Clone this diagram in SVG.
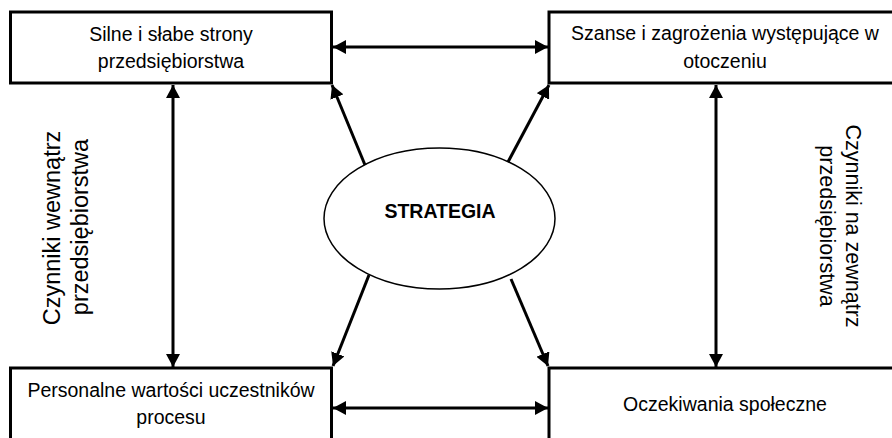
<svg xmlns="http://www.w3.org/2000/svg" width="892" height="438" viewBox="0 0 892 438">
<style>
.box{fill:#fff;stroke:#000;stroke-width:3}
.t{font-family:"Liberation Sans",Arial,sans-serif;font-size:19.5px;fill:#000;text-anchor:middle}
.b{font-weight:bold}
.vl{font-size:23.5px}
.vr{font-size:21.5px}
.c{stroke:#000;stroke-width:3;fill:none}
</style>
<defs>
<marker id="ah" markerUnits="userSpaceOnUse" markerWidth="14" markerHeight="14" refX="13" refY="7" orient="auto-start-reverse" viewBox="0 0 14 14">
<path d="M0,0 L13,7 L0,14 z" fill="#000"/>
</marker>
</defs>
<rect x="0" y="0" width="892" height="438" fill="#fff"/>
<g id="n-silne">
<rect class="box" x="10.5" y="12" width="321" height="71"/>
<text class="t" x="171" y="41">Silne i słabe strony</text>
<text class="t" x="171" y="68">przedsiębiorstwa</text>
</g>
<g id="n-szanse">
<rect class="box" x="549" y="12" width="352" height="71"/>
<text class="t" x="725" y="40">Szanse i zagrożenia występujące w</text>
<text class="t" x="725" y="68">otoczeniu</text>
</g>
<g id="n-personalne">
<rect class="box" x="10.5" y="368" width="321" height="82"/>
<text class="t" x="171" y="397">Personalne wartości uczestników</text>
<text class="t" x="171" y="424">procesu</text>
</g>
<g id="n-oczekiwania">
<rect class="box" x="549" y="368" width="352" height="82"/>
<text class="t" x="725" y="411">Oczekiwania społeczne</text>
</g>
<g id="n-strategia">
<ellipse cx="439.5" cy="218.5" rx="115.5" ry="70.5" fill="#fff" stroke="#000" stroke-width="1.5"/>
<text class="t b" x="440" y="218">STRATEGIA</text>
</g>
<g id="n-wewnatrz">
<text class="t vl" transform="translate(60,228) rotate(-90)" x="0" y="0">Czynniki wewnątrz</text>
<text class="t vl" transform="translate(88,227) rotate(-90)" x="0" y="0">przedsiębiorstwa</text>
</g>
<g id="n-zewnatrz">
<text class="t vr" transform="translate(846,226) rotate(90)" x="0" y="0">Czynniki na zewnątrz</text>
<text class="t vr" transform="translate(820,226) rotate(90)" x="0" y="0">przedsiębiorstwa</text>
</g>
<g id="connectors">
<line class="c" x1="333" y1="47" x2="548" y2="47" marker-start="url(#ah)" marker-end="url(#ah)"/>
<line class="c" x1="333" y1="408" x2="548" y2="408" marker-start="url(#ah)" marker-end="url(#ah)"/>
<line class="c" x1="173" y1="85" x2="173" y2="367" marker-start="url(#ah)" marker-end="url(#ah)"/>
<line class="c" x1="716" y1="85" x2="716" y2="367" marker-start="url(#ah)" marker-end="url(#ah)"/>
<line class="c" x1="365" y1="165" x2="332" y2="85" marker-end="url(#ah)"/>
<line class="c" x1="508" y1="162" x2="549" y2="85" marker-end="url(#ah)"/>
<line class="c" x1="369" y1="275" x2="333" y2="366" marker-end="url(#ah)"/>
<line class="c" x1="511" y1="279" x2="548" y2="366" marker-end="url(#ah)"/>
</g>
</svg>
